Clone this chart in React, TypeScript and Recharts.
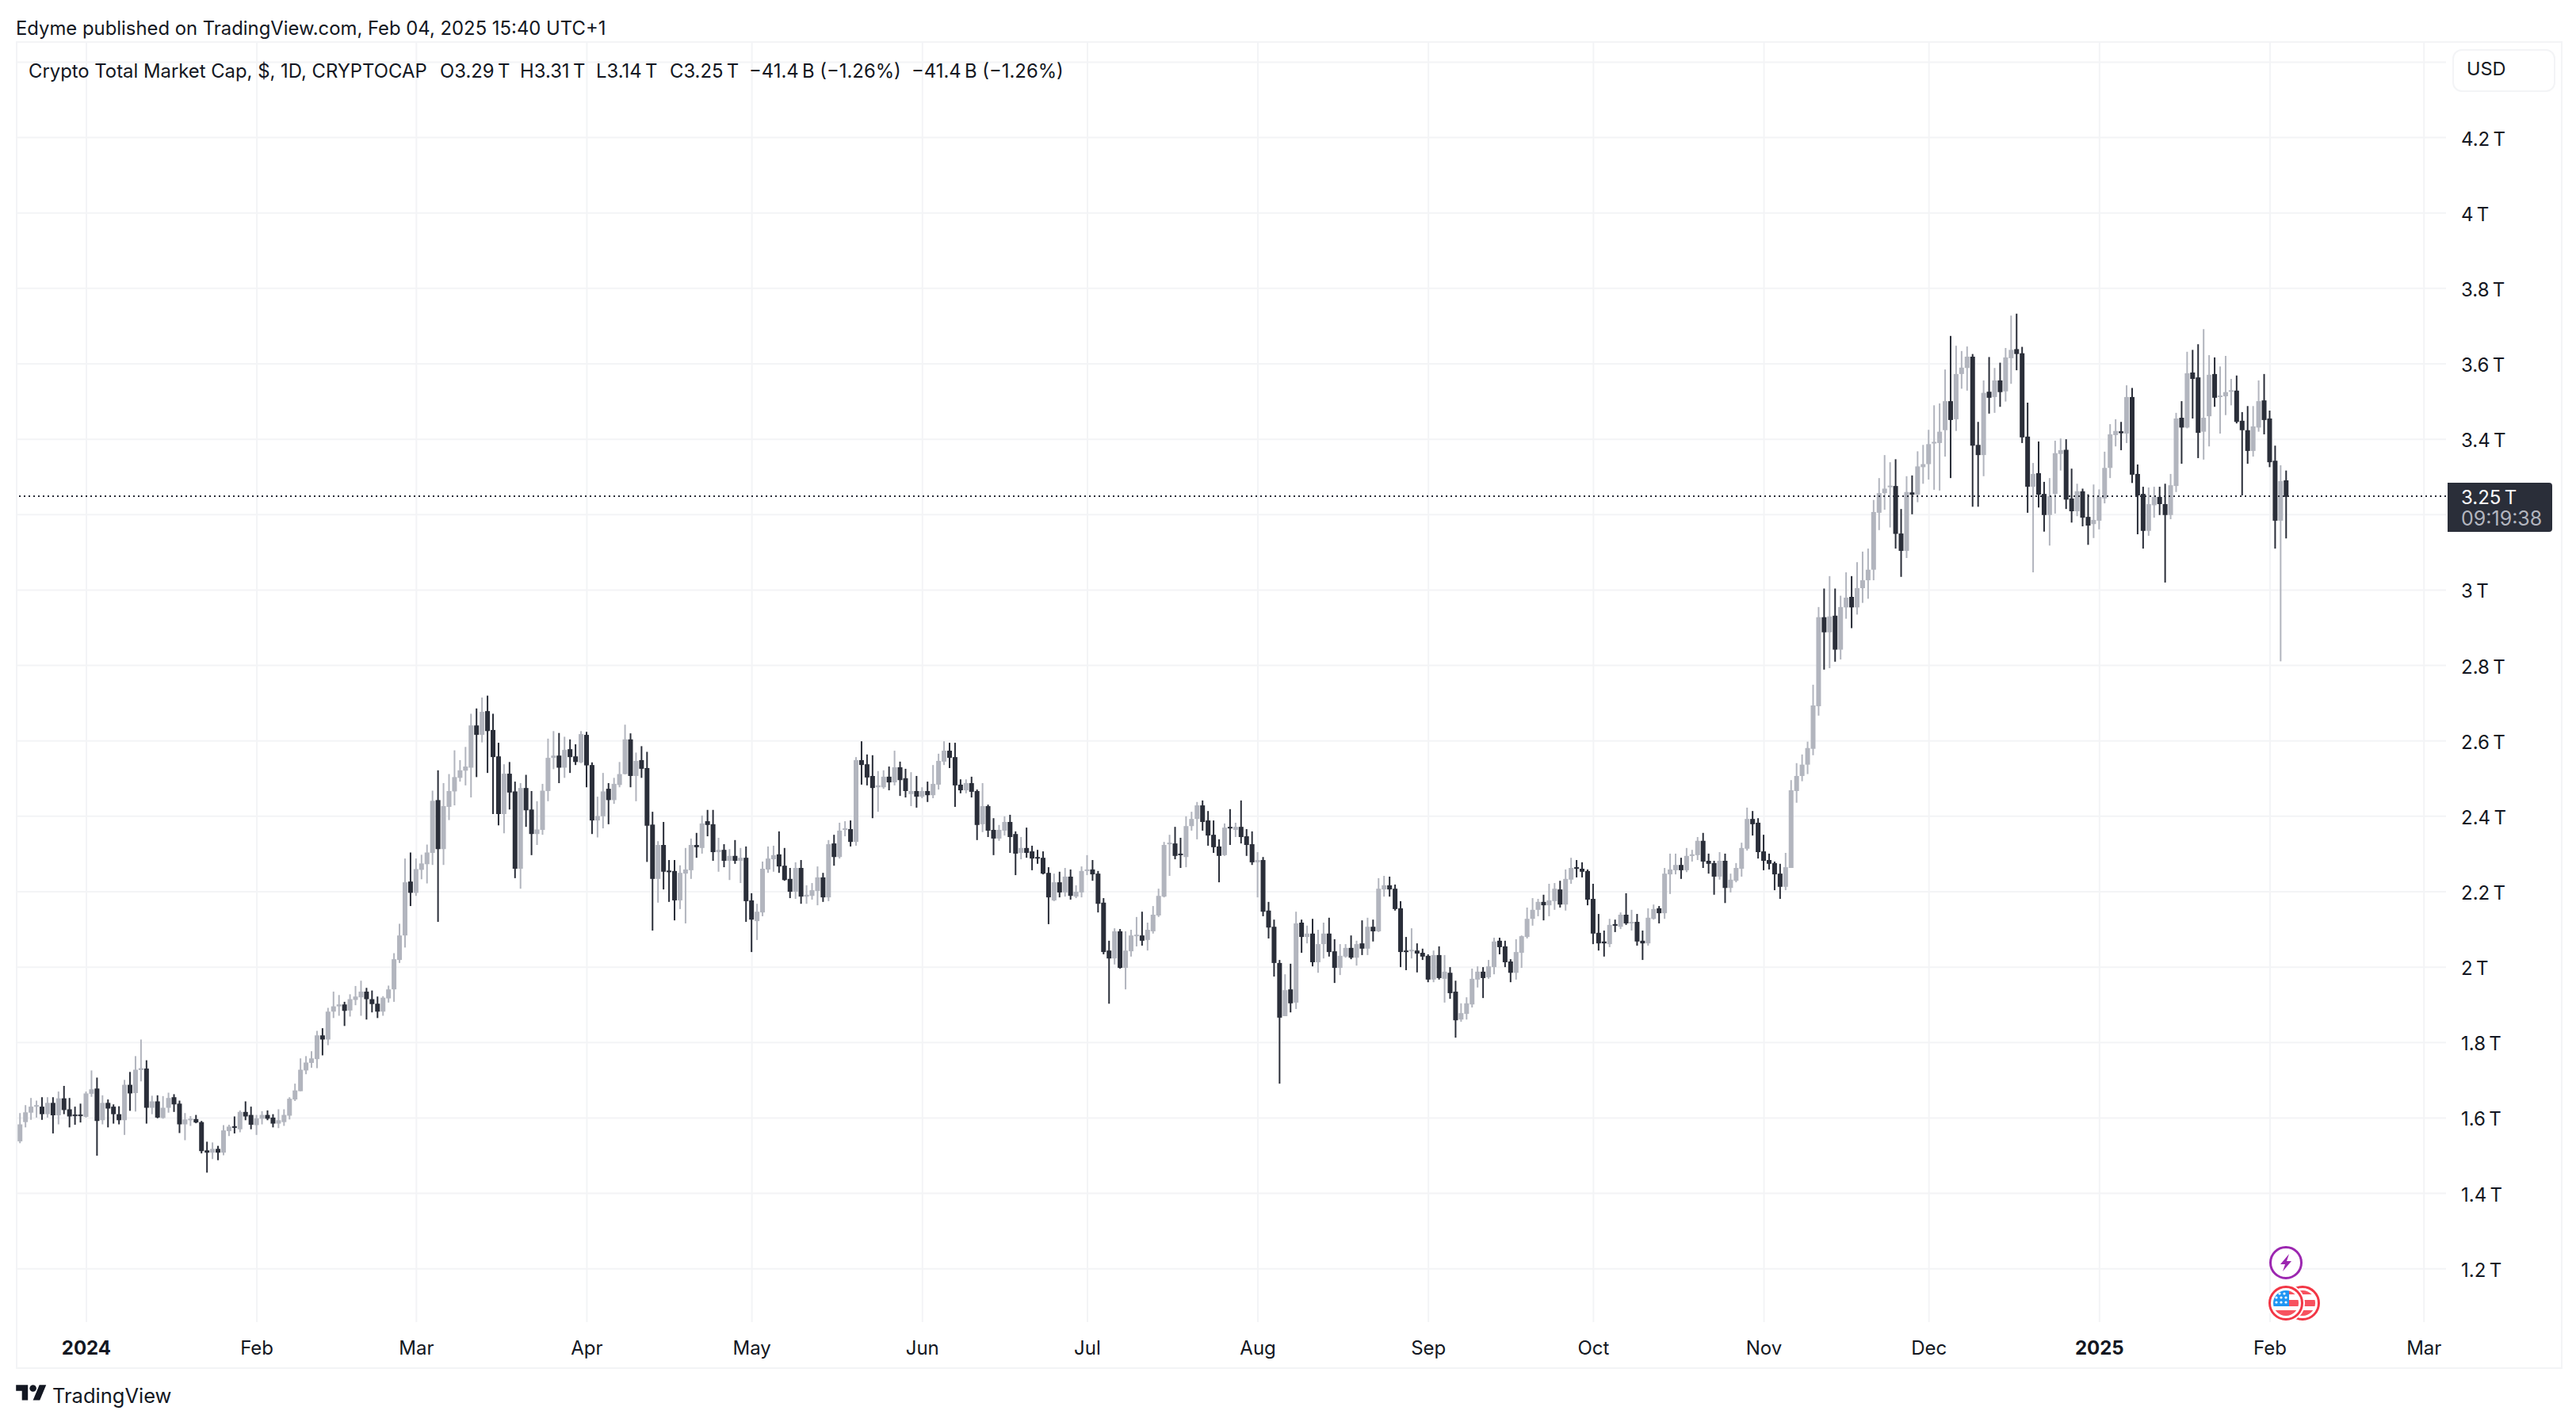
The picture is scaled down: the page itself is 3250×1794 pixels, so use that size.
import React from "react";
import {
  ComposedChart,
  Bar,
  XAxis,
  YAxis,
  CartesianGrid,
  ReferenceLine,
} from "recharts";

const UP = "#b2b5be";
const DOWN = "#2a2e39";
const GRID = "#f3f4f6";
const INK = "#131722";
const FONT = "Inter, sans-serif";

// days are counted from 2024-01-01, one candle per day
const firstDay = -13;

const opens = [
  1.559,1.538,1.589,1.614,1.630,1.630,1.610,1.640,1.607,1.652,
  1.623,1.609,1.609,1.603,1.664,1.678,1.594,1.640,1.630,1.610,
  1.594,1.688,1.666,1.727,1.731,1.627,1.644,1.600,1.627,1.655,
  1.638,1.583,1.595,1.597,1.589,1.514,1.508,1.518,1.508,1.565,
  1.578,1.570,1.616,1.608,1.581,1.598,1.608,1.601,1.585,1.589,
  1.606,1.649,1.671,1.726,1.746,1.756,1.819,1.808,1.882,1.896,
  1.901,1.885,1.913,1.920,1.935,1.915,1.903,1.882,1.917,1.941,
  2.019,2.084,2.227,2.197,2.258,2.273,2.303,2.443,2.313,2.425,
  2.466,2.502,2.521,2.529,2.641,2.616,2.679,2.629,2.559,2.406,
  2.513,2.466,2.261,2.475,2.418,2.353,2.364,2.467,2.555,2.561,
  2.529,2.578,2.559,2.543,2.616,2.536,2.389,2.400,2.473,2.443,
  2.483,2.512,2.604,2.507,2.549,2.528,2.378,2.234,2.324,2.256,
  2.255,2.177,2.248,2.257,2.324,2.316,2.387,2.379,2.305,2.311,
  2.282,2.295,2.282,2.290,2.177,2.122,2.145,2.259,2.286,2.299,
  2.269,2.234,2.200,2.263,2.187,2.189,2.202,2.238,2.185,2.328,
  2.292,2.364,2.366,2.332,2.549,2.538,2.507,2.477,2.477,2.505,
  2.490,2.530,2.501,2.459,2.467,2.452,2.467,2.456,2.484,2.545,
  2.574,2.557,2.484,2.469,2.488,2.467,2.379,2.427,2.364,2.341,
  2.362,2.385,2.353,2.303,2.316,2.307,2.292,2.290,2.250,2.177,
  2.225,2.198,2.240,2.187,2.198,2.255,2.259,2.248,2.171,2.044,
  2.023,2.095,1.998,2.042,2.082,2.084,2.072,2.095,2.137,2.187,
  2.326,2.328,2.301,2.292,2.374,2.393,2.429,2.389,2.351,2.320,
  2.297,2.372,2.364,2.372,2.347,2.326,2.278,2.284,2.150,2.107,
  2.011,1.870,1.941,1.906,2.118,2.080,2.089,2.013,2.061,2.089,
  2.042,1.998,2.028,2.051,2.025,2.063,2.049,2.107,2.095,2.206,
  2.217,2.208,2.156,2.044,2.042,2.044,2.038,2.030,1.967,2.032,
  1.969,1.985,1.935,1.861,1.876,1.901,1.967,1.988,1.973,2.000,
  2.070,2.055,2.015,1.985,2.038,2.080,2.128,2.152,2.173,2.164,
  2.175,2.206,2.166,2.232,2.265,2.261,2.255,2.181,2.091,2.068,
  2.061,2.114,2.107,2.139,2.116,2.120,2.070,2.063,2.128,2.156,
  2.143,2.246,2.257,2.271,2.257,2.295,2.297,2.335,2.282,2.276,
  2.240,2.282,2.210,2.229,2.261,2.314,2.393,2.383,2.307,2.284,
  2.276,2.248,2.213,2.263,2.467,2.507,2.537,2.579,2.692,2.928,
  2.888,2.932,2.842,2.954,2.982,2.954,3.005,3.026,3.054,3.205,
  3.257,3.275,3.276,3.150,3.104,3.259,3.253,3.326,3.334,3.391,
  3.390,3.424,3.501,3.453,3.573,3.589,3.619,3.385,3.358,3.526,
  3.512,3.556,3.527,3.615,3.639,3.628,3.407,3.274,3.310,3.255,
  3.199,3.255,3.361,3.372,3.243,3.209,3.262,3.194,3.175,3.184,
  3.243,3.324,3.411,3.421,3.415,3.512,3.308,3.255,3.157,3.225,
  3.247,3.228,3.199,3.276,3.457,3.431,3.577,3.564,3.420,3.461,
  3.573,3.512,3.514,3.528,3.529,3.449,3.424,3.369,3.431,3.503,
  3.455,3.343,3.184,3.291,
];

const highs = [
  1.559,1.613,1.634,1.653,1.646,1.655,1.655,1.655,1.670,1.685,
  1.653,1.630,1.638,1.670,1.726,1.707,1.660,1.649,1.636,1.631,
  1.701,1.722,1.764,1.808,1.753,1.659,1.660,1.658,1.667,1.663,
  1.646,1.613,1.605,1.608,1.592,1.537,1.535,1.526,1.581,1.582,
  1.604,1.620,1.644,1.630,1.608,1.618,1.620,1.610,1.623,1.623,
  1.655,1.691,1.758,1.764,1.777,1.831,1.838,1.892,1.935,1.926,
  1.908,1.928,1.950,1.964,1.945,1.938,1.922,1.923,1.951,2.037,
  2.115,2.288,2.304,2.288,2.298,2.325,2.468,2.522,2.488,2.512,
  2.575,2.549,2.584,2.672,2.686,2.715,2.720,2.672,2.595,2.538,
  2.544,2.492,2.488,2.510,2.467,2.440,2.486,2.606,2.626,2.621,
  2.611,2.604,2.591,2.626,2.624,2.543,2.452,2.515,2.488,2.502,
  2.544,2.643,2.620,2.569,2.586,2.571,2.412,2.334,2.385,2.284,
  2.284,2.270,2.316,2.341,2.356,2.402,2.417,2.417,2.343,2.326,
  2.313,2.337,2.316,2.320,2.196,2.168,2.280,2.320,2.322,2.360,
  2.316,2.263,2.278,2.284,2.217,2.223,2.267,2.250,2.337,2.351,
  2.383,2.387,2.389,2.557,2.599,2.564,2.562,2.520,2.522,2.532,
  2.574,2.545,2.526,2.517,2.507,2.477,2.492,2.536,2.566,2.599,
  2.595,2.595,2.498,2.498,2.505,2.471,2.488,2.431,2.395,2.377,
  2.400,2.404,2.360,2.345,2.370,2.322,2.311,2.307,2.265,2.248,
  2.253,2.263,2.259,2.217,2.267,2.297,2.284,2.255,2.183,2.070,
  2.103,2.101,2.095,2.099,2.133,2.147,2.118,2.162,2.208,2.332,
  2.351,2.372,2.343,2.400,2.412,2.438,2.442,2.414,2.389,2.339,
  2.381,2.419,2.383,2.442,2.366,2.360,2.305,2.292,2.173,2.126,
  2.019,1.981,2.009,2.147,2.126,2.110,2.128,2.099,2.118,2.131,
  2.074,2.061,2.061,2.084,2.070,2.124,2.131,2.126,2.236,2.242,
  2.240,2.219,2.175,2.080,2.103,2.063,2.049,2.034,2.044,2.055,
  2.032,2.000,1.964,1.904,1.920,1.996,2.002,2.000,2.019,2.078,
  2.078,2.070,2.021,2.074,2.084,2.158,2.183,2.181,2.192,2.221,
  2.223,2.229,2.259,2.290,2.284,2.278,2.259,2.221,2.141,2.097,
  2.128,2.126,2.145,2.196,2.152,2.141,2.097,2.156,2.166,2.162,
  2.263,2.301,2.301,2.290,2.316,2.311,2.345,2.356,2.301,2.282,
  2.305,2.301,2.248,2.276,2.330,2.423,2.414,2.395,2.351,2.301,
  2.280,2.274,2.303,2.496,2.541,2.564,2.598,2.749,2.955,3.004,
  3.037,3.004,2.985,3.047,3.037,3.074,3.102,3.110,3.239,3.297,
  3.358,3.339,3.347,3.215,3.302,3.304,3.368,3.385,3.425,3.490,
  3.495,3.585,3.674,3.648,3.634,3.646,3.626,3.446,3.556,3.618,
  3.589,3.603,3.642,3.728,3.733,3.645,3.497,3.337,3.394,3.287,
  3.297,3.396,3.402,3.400,3.322,3.282,3.269,3.254,3.280,3.267,
  3.367,3.440,3.453,3.446,3.543,3.536,3.333,3.274,3.272,3.274,
  3.274,3.282,3.308,3.470,3.501,3.632,3.637,3.652,3.692,3.623,
  3.617,3.593,3.621,3.560,3.569,3.472,3.488,3.488,3.556,3.573,
  3.476,3.383,3.331,3.317,
];

const lows = [
  1.541,1.533,1.575,1.595,1.601,1.595,1.601,1.559,1.583,1.610,
  1.575,1.582,1.588,1.601,1.656,1.500,1.583,1.575,1.585,1.583,
  1.555,1.619,1.617,1.697,1.585,1.610,1.599,1.598,1.614,1.616,
  1.560,1.541,1.579,1.586,1.506,1.455,1.491,1.488,1.501,1.552,
  1.559,1.562,1.594,1.570,1.555,1.583,1.594,1.575,1.573,1.579,
  1.596,1.645,1.671,1.716,1.733,1.732,1.766,1.793,1.865,1.871,
  1.844,1.869,1.899,1.871,1.861,1.880,1.865,1.871,1.906,1.908,
  2.011,2.052,2.162,2.189,2.233,2.222,2.271,2.120,2.271,2.390,
  2.429,2.492,2.482,2.450,2.504,2.596,2.515,2.406,2.376,2.355,
  2.418,2.236,2.208,2.372,2.297,2.324,2.351,2.440,2.525,2.488,
  2.502,2.515,2.536,2.541,2.477,2.353,2.344,2.368,2.379,2.433,
  2.477,2.511,2.477,2.440,2.502,2.279,2.097,2.171,2.206,2.173,
  2.124,2.154,2.116,2.234,2.290,2.301,2.347,2.282,2.253,2.265,
  2.231,2.274,2.223,2.120,2.040,2.072,2.135,2.250,2.253,2.250,
  2.229,2.183,2.181,2.168,2.168,2.179,2.164,2.173,2.175,2.269,
  2.288,2.347,2.320,2.322,2.484,2.482,2.395,2.412,2.473,2.469,
  2.482,2.454,2.450,2.427,2.423,2.448,2.438,2.448,2.471,2.536,
  2.528,2.425,2.461,2.461,2.450,2.337,2.358,2.345,2.297,2.335,
  2.349,2.303,2.244,2.286,2.290,2.257,2.274,2.246,2.114,2.175,
  2.185,2.187,2.179,2.183,2.185,2.244,2.229,2.145,2.034,1.903,
  2.007,1.996,1.941,2.028,2.055,2.057,2.044,2.089,2.133,2.185,
  2.242,2.286,2.263,2.265,2.362,2.339,2.362,2.322,2.303,2.225,
  2.295,2.324,2.345,2.328,2.295,2.271,2.185,2.135,2.076,1.975,
  1.691,1.870,1.880,1.889,2.038,2.063,2.002,1.985,2.023,2.028,
  1.958,1.979,2.025,2.021,2.004,2.032,2.032,2.068,2.093,2.187,
  2.187,2.150,2.000,1.992,2.023,1.986,2.019,1.960,1.960,1.967,
  1.906,1.916,1.813,1.855,1.861,1.893,1.946,1.918,1.969,1.981,
  2.034,2.000,1.960,1.967,1.998,2.076,2.110,2.135,2.124,2.135,
  2.152,2.158,2.150,2.221,2.238,2.238,2.164,2.061,2.044,2.028,
  2.053,2.093,2.101,2.112,2.097,2.057,2.019,2.057,2.126,2.116,
  2.128,2.194,2.246,2.234,2.252,2.280,2.284,2.263,2.248,2.192,
  2.232,2.170,2.198,2.225,2.240,2.309,2.349,2.288,2.257,2.259,
  2.204,2.181,2.204,2.263,2.436,2.493,2.512,2.562,2.667,2.789,
  2.793,2.810,2.816,2.924,2.899,2.935,2.966,2.977,3.026,3.159,
  3.213,3.166,3.110,3.035,3.085,3.201,3.233,3.282,3.293,3.266,
  3.264,3.354,3.297,3.422,3.534,3.529,3.221,3.221,3.302,3.468,
  3.470,3.486,3.500,3.547,3.583,3.390,3.205,3.047,3.219,3.155,
  3.118,3.203,3.317,3.215,3.179,3.196,3.169,3.120,3.138,3.161,
  3.230,3.297,3.381,3.371,3.390,3.284,3.148,3.110,3.144,3.192,
  3.199,3.020,3.188,3.260,3.335,3.429,3.455,3.350,3.346,3.381,
  3.486,3.415,3.464,3.490,3.442,3.251,3.335,3.354,3.420,3.413,
  3.326,3.110,2.811,3.137,
];

const closes = [
  1.541,1.583,1.615,1.630,1.634,1.610,1.640,1.607,1.652,1.621,
  1.604,1.605,1.605,1.665,1.676,1.592,1.640,1.625,1.610,1.594,
  1.688,1.665,1.728,1.732,1.627,1.644,1.601,1.627,1.653,1.636,
  1.583,1.596,1.598,1.588,1.512,1.508,1.518,1.508,1.567,1.577,
  1.575,1.616,1.604,1.582,1.599,1.608,1.598,1.585,1.594,1.608,
  1.651,1.673,1.728,1.747,1.758,1.819,1.808,1.882,1.896,1.901,
  1.884,1.915,1.922,1.935,1.915,1.902,1.882,1.919,1.941,2.021,
  2.084,2.225,2.197,2.260,2.275,2.304,2.441,2.313,2.427,2.467,
  2.504,2.522,2.532,2.641,2.616,2.677,2.626,2.557,2.406,2.513,
  2.463,2.261,2.475,2.416,2.353,2.365,2.468,2.555,2.561,2.529,
  2.576,2.557,2.544,2.618,2.535,2.389,2.401,2.466,2.443,2.486,
  2.512,2.604,2.507,2.547,2.526,2.375,2.234,2.324,2.253,2.253,
  2.177,2.250,2.259,2.324,2.318,2.381,2.377,2.305,2.311,2.282,
  2.295,2.282,2.290,2.175,2.126,2.147,2.261,2.288,2.297,2.267,
  2.231,2.200,2.263,2.187,2.192,2.204,2.238,2.185,2.326,2.292,
  2.362,2.368,2.332,2.549,2.536,2.503,2.475,2.482,2.505,2.490,
  2.530,2.496,2.467,2.467,2.452,2.467,2.456,2.486,2.547,2.574,
  2.555,2.482,2.469,2.488,2.465,2.377,2.427,2.362,2.341,2.364,
  2.385,2.345,2.301,2.316,2.303,2.288,2.288,2.248,2.185,2.225,
  2.198,2.240,2.189,2.200,2.255,2.259,2.246,2.168,2.040,2.023,
  2.095,1.998,2.044,2.084,2.086,2.070,2.099,2.139,2.189,2.324,
  2.330,2.295,2.297,2.374,2.393,2.429,2.385,2.349,2.318,2.295,
  2.370,2.368,2.372,2.345,2.324,2.278,2.284,2.147,2.105,2.011,
  1.866,1.939,1.904,2.116,2.080,2.089,2.013,2.061,2.089,2.040,
  1.998,2.030,2.051,2.025,2.061,2.049,2.107,2.095,2.208,2.217,
  2.206,2.154,2.040,2.040,2.046,2.036,2.028,1.967,2.032,1.971,
  1.988,1.931,1.859,1.878,1.904,1.969,1.988,1.971,2.002,2.068,
  2.053,2.013,1.985,2.040,2.082,2.128,2.152,2.173,2.164,2.177,
  2.208,2.166,2.234,2.263,2.261,2.253,2.179,2.089,2.063,2.063,
  2.112,2.110,2.139,2.116,2.120,2.068,2.063,2.131,2.154,2.143,
  2.248,2.259,2.271,2.257,2.295,2.299,2.335,2.280,2.274,2.240,
  2.282,2.210,2.232,2.263,2.316,2.393,2.379,2.305,2.282,2.274,
  2.246,2.213,2.265,2.469,2.507,2.537,2.581,2.694,2.928,2.888,
  2.930,2.842,2.955,2.980,2.954,3.005,3.026,3.054,3.207,3.257,
  3.269,3.277,3.149,3.104,3.260,3.253,3.328,3.334,3.387,3.393,
  3.420,3.501,3.451,3.573,3.590,3.619,3.383,3.358,3.523,3.510,
  3.556,3.525,3.617,3.637,3.626,3.405,3.274,3.308,3.253,3.199,
  3.249,3.363,3.371,3.240,3.209,3.262,3.192,3.171,3.186,3.247,
  3.324,3.413,3.422,3.416,3.512,3.306,3.251,3.157,3.228,3.247,
  3.228,3.199,3.278,3.455,3.431,3.575,3.560,3.417,3.457,3.571,
  3.510,3.516,3.525,3.530,3.446,3.424,3.369,3.434,3.501,3.451,
  3.339,3.184,3.289,3.247,
];

const monthDays = [0, 31, 60, 91, 121, 152, 182, 213, 244, 274, 305, 335, 366, 397, 425];
const monthLabels = ["2024", "Feb", "Mar", "Apr", "May", "Jun", "Jul", "Aug", "Sep", "Oct", "Nov", "Dec", "2025", "Feb", "Mar"];
const priceTicks = [1.2, 1.4, 1.6, 1.8, 2, 2.2, 2.4, 2.6, 2.8, 3, 3.2, 3.4, 3.6, 3.8, 4, 4.2, 4.4];
// gridlines with no label: the USD button and the last price tag sit over these two
const unlabelledTicks = [3.2, 4.4];
const lastClose = 3.249;

const candles = closes.map((close, i) => ({
  day: firstDay + i,
  open: opens[i],
  high: highs[i],
  low: lows[i],
  close,
}));

const Candle = (props: any) => {
  const { x, y, width, height, payload } = props;
  const { open, high, low, close } = payload;
  const color = close >= open ? UP : DOWN;
  const perUnit = height / (high - low);
  const bodyTop = y + (high - Math.max(open, close)) * perUnit;
  const bodyH = Math.max(Math.abs(open - close) * perUnit, 2);
  const mid = x + width / 2;
  return (
    <g>
      <rect x={mid - 1} y={y} width={2} height={height} fill={color} />
      <rect x={x} y={bodyTop} width={width} height={bodyH} fill={color} />
    </g>
  );
};

const MonthTick = (props: any) => {
  const { x, y, payload } = props;
  const label = monthLabels[monthDays.indexOf(payload.value)];
  const isYear = label.length === 4;
  return (
    <text x={x} y={y} textAnchor="middle" dominantBaseline="central" fontFamily={FONT} fontSize={24} fontWeight={isYear ? 700 : 400} fill={INK}>
      {label}
    </text>
  );
};

const PriceTick = (props: any) => {
  const { x, y, payload } = props;
  if (unlabelledTicks.includes(payload.value)) return null;
  return (
    <text x={x} y={y + 1.5} dominantBaseline="central" fontFamily={FONT} fontSize={24} fill={INK}>
      {`${payload.value}\u202fT`}
    </text>
  );
};

const textAt = (left: number, top: number, extra: React.CSSProperties = {}): React.CSSProperties => ({
  position: "absolute",
  left,
  top,
  transform: "translateY(-50%)",
  fontFamily: FONT,
  fontSize: 23.85,
  lineHeight: "24px",
  color: INK,
  whiteSpace: "nowrap",
  ...extra,
});

const legendParts: [number, string][] = [
  [36, "Crypto Total Market Cap, $, 1D, CRYPTOCAP"],
  [555, "O3.29\u202fT"],
  [656, "H3.31\u202fT"],
  [752, "L3.14\u202fT"],
  [845, "C3.25\u202fT"],
  [945, "\u221241.4\u202fB (\u22121.26%)"],
  [1150, "\u221241.4\u202fB (\u22121.26%)"],
];

const starDots = [
  [26, 60], [32, 60],
  [22, 65], [28, 65], [34, 65],
  [22, 71], [28, 71], [34, 71],
];

const EventIcons = () => (
  <svg width={80} height={110} style={{ position: "absolute", left: 2850, top: 1572 }}>
    <defs>
      <clipPath id="coinA"><circle cx={34} cy={72} r={16} /></clipPath>
      <clipPath id="coinB"><circle cx={55} cy={72} r={16} /></clipPath>
    </defs>
    <circle cx={34} cy={21} r={19.5} fill="#fff" stroke="#9c27b0" strokeWidth={3} />
    <path d="M38 10 L27 23 L33 23 L30 32 L41 19 L35 19 Z" fill="#9c27b0" />
    <circle cx={55} cy={72} r={20.5} fill="#fff" stroke="#f23645" strokeWidth={3} />
    <g clipPath="url(#coinB)">
      <rect x={50} y={68} width={26} height={8} fill="#f7525f" />
      <rect x={40} y={81} width={34} height={8} fill="#f7525f" />
      <rect x={40} y={56} width={34} height={5} fill="#f7525f" />
    </g>
    <circle cx={34} cy={72} r={24} fill="#fff" />
    <circle cx={34} cy={72} r={20.5} fill="#fff" stroke="#f23645" strokeWidth={3} />
    <g clipPath="url(#coinA)">
      <rect x={38} y={68} width={14} height={8} fill="#f7525f" />
      <rect x={16} y={81} width={36} height={8} fill="#f7525f" />
      <rect x={38} y={56} width={14} height={5} fill="#f7525f" />
      <rect x={16} y={54} width={22} height={22} fill="#2196f3" />
    </g>
    {starDots.map(([cx, cy]) => (
      <circle key={`${cx}-${cy}`} cx={cx} cy={cy} r={1.6} fill="#fff" />
    ))}
  </svg>
);

const TradingViewMark = () => (
  <svg width={39} height={30} viewBox="0 0 36 28" style={{ position: "absolute", left: 20, top: 1743 }}>
    <path d="M14 22H7V11H0V4h14v18zM28 22h-8l7.5-18h8L28 22z" fill="#131722" />
    <circle cx={20} cy={8} r={4} fill="#131722" />
  </svg>
);

export default function App() {
  return (
    <div style={{ position: "absolute", left: 0, top: 0, width: 3250, height: 1794, background: "#fff", overflow: "hidden" }}>
      <ComposedChart
        width={3250}
        height={1794}
        data={candles}
        margin={{ top: 53, right: 20, bottom: 70, left: 20 }}
      >
        <CartesianGrid stroke={GRID} strokeWidth={2} syncWithTicks />
        <XAxis
          dataKey="day"
          type="number"
          domain={[-12.82, 429]}
          allowDataOverflow
          ticks={monthDays}
          interval={0}
          height={56}
          axisLine={false}
          tickLine={false}
          tick={<MonthTick />}
          tickMargin={26}
        />
        <YAxis
          type="number"
          orientation="right"
          domain={[1.0585, 4.4535]}
          allowDataOverflow
          ticks={priceTicks}
          interval={0}
          width={144}
          axisLine={false}
          tickLine={false}
          tick={<PriceTick />}
          tickMargin={13}
        />
        <ReferenceLine y={lastClose} stroke={DOWN} strokeWidth={2} strokeDasharray="2 4" />
        <Bar
          dataKey={(d: any) => [d.low, d.high]}
          barSize={6}
          shape={<Candle />}
          isAnimationActive={false}
        />
      </ComposedChart>

      {/* frame */}
      <div style={{ position: "absolute", left: 20, top: 52, width: 3209, height: 1671, border: "2px solid #f3f4f6" }} />

      <div style={textAt(20, 36)}>Edyme published on TradingView.com, Feb 04, 2025 15:40 UTC+1</div>
      {legendParts.map(([left, text]) => (
        <div key={left} style={textAt(left, 90)}>{text}</div>
      ))}

      <div style={{ position: "absolute", left: 3094, top: 62, width: 126, height: 50, border: "2px solid #f3f4f6", borderRadius: 12, background: "#fff" }} />
      <div style={textAt(3112, 87, { fontSize: 23.5 })}>USD</div>

      <div style={{ position: "absolute", left: 3088, top: 609, width: 132, height: 62, background: DOWN, borderRadius: "0 4px 4px 0" }} />
      <div style={textAt(3105, 628, { color: "#fff", fontSize: 24 })}>3.25{"\u202f"}T</div>
      <div style={textAt(3105, 654, { color: "#b2b5be", fontSize: 25 })}>09:19:38</div>

      <EventIcons />
      <TradingViewMark />
      <div style={textAt(66, 1761, { fontSize: 25.5, lineHeight: "30px" })}>TradingView</div>
    </div>
  );
}
